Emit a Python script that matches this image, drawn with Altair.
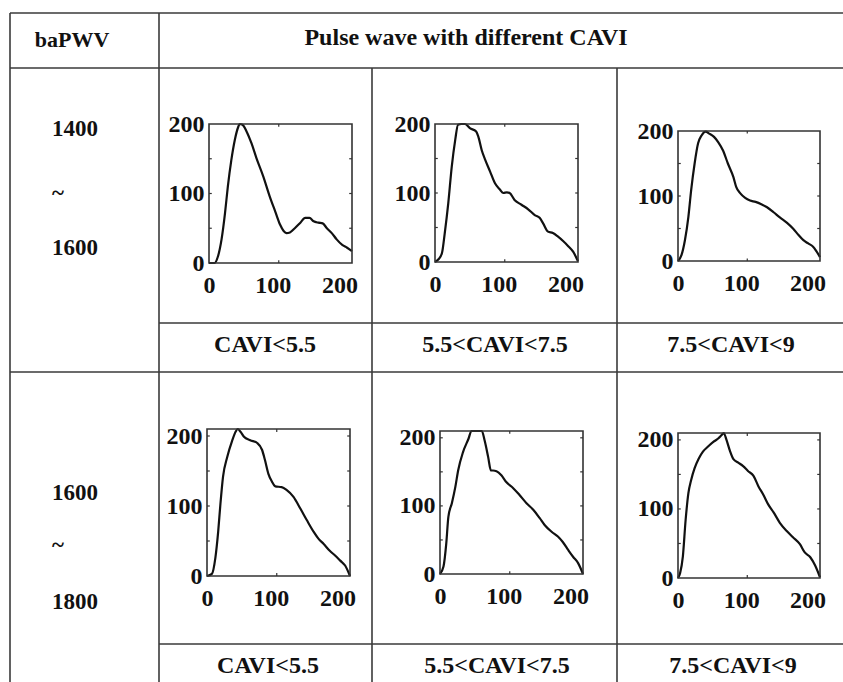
import altair as alt
import pandas as pd

W, H = 843, 682
SERIF = "Liberation Serif"
INK = "#111111"
RULE = "#3a3a3a"

# ---- text content -------------------------------------------------------
header_left = "baPWV"
header_main = "Pulse wave with different CAVI"
bapwv_row1 = ["1400", "~", "1600"]
bapwv_row2 = ["1600", "~", "1800"]
cavi_labels = ["CAVI<5.5", "5.5<CAVI<7.5", "7.5<CAVI<9"]
tick_labels = [0, 100, 200]

# ---- pulse waves, baPWV 1400~1600 ------------------------------------------
t_a1 = [0, 8, 13, 18, 23, 27, 32, 37, 42, 44, 48, 54, 61, 68, 78, 87, 95, 102, 107,
        111, 116, 123, 131, 138, 144, 150, 157, 163, 169, 176, 183, 191, 198, 205]
p_a1 = [0, 0, 10, 34, 72, 110, 148, 177, 196, 200, 199, 189, 172, 151, 124, 96, 74, 55, 46,
        43, 44, 50, 58, 65, 65, 60, 58, 57, 50, 43, 34, 26, 22, 17]

t_a2 = [0, 5, 10, 14, 19, 24, 29, 33, 38, 43, 50, 59, 62, 67, 72, 79, 86, 93, 98, 103,
        107, 114, 124, 134, 143, 150, 155, 162, 169, 176, 184, 191, 198, 205]
p_a2 = [0, 4, 13, 42, 85, 138, 177, 199, 200, 200, 194, 189, 182, 162, 148, 131, 114, 105, 100, 101,
        100, 90, 83, 76, 68, 64, 56, 44, 42, 37, 30, 23, 15, 1]

t_a3 = [0, 5, 10, 15, 19, 24, 29, 34, 40, 45, 52, 58, 65, 72, 80, 84, 90, 97, 104, 112,
        121, 128, 138, 147, 157, 166, 174, 181, 188, 195, 205]
p_a3 = [0, 9, 32, 68, 109, 150, 181, 193, 199, 196, 191, 183, 170, 150, 129, 114, 104, 97, 93, 91,
        87, 83, 75, 67, 59, 50, 40, 32, 27, 22, 6]

# ---- pulse waves, baPWV 1600~1800 ------------------------------------------
t_b1 = [0, 7, 12, 16, 19, 23, 29, 36, 41, 44, 48, 53, 62, 72, 79, 83, 88, 93, 98, 107,
        114, 124, 134, 143, 153, 160, 167, 176, 184, 191, 198, 205]
p_b1 = [0, 3, 26, 63, 100, 142, 170, 193, 206, 210, 206, 199, 194, 190, 180, 166, 146, 135, 128, 127,
        123, 113, 96, 80, 63, 53, 46, 36, 29, 22, 15, 0]

t_b2 = [0, 5, 9, 12, 17, 22, 26, 33, 41, 45, 52, 60, 64, 69, 73, 76, 81, 88, 95, 105,
        114, 124, 134, 143, 150, 160, 169, 176, 184, 191, 198, 205]
p_b2 = [0, 11, 45, 84, 104, 128, 152, 179, 199, 210, 210, 210, 196, 172, 152, 152, 151, 145, 135, 126,
        116, 104, 94, 82, 72, 62, 55, 47, 35, 25, 16, 0]

t_b3 = [0, 3, 7, 11, 15, 19, 24, 30, 36, 43, 51, 58, 63, 66, 70, 75, 80, 87, 94, 101,
        109, 116, 123, 130, 138, 147, 157, 166, 176, 183, 191, 198, 205]
p_b3 = [0, 7, 31, 84, 123, 142, 159, 173, 183, 190, 197, 202, 207, 210, 200, 184, 172, 167, 162, 155,
        148, 133, 121, 107, 95, 80, 68, 59, 49, 37, 30, 18, 1]

# ---- page layout (pixels) ------------------------------------------------
px_scale = alt.Scale(domain=[0, W], range=[0, W], nice=False, zero=False)
py_scale = alt.Scale(domain=[0, H], range=[0, H], nice=False, zero=False)

grid_lines = pd.DataFrame(
    [
        (10, 13, W, 13), (10, 68, W, 68), (10, 372, W, 372),
        (159, 323, W, 323), (159, 644, W, 644),
        (10, 13, 10, H), (159, 13, 159, H), (372, 68, 372, H), (617, 68, 617, H),
    ],
    columns=["x1", "y1", "x2", "y2"],
)

table_rules = alt.Chart(grid_lines).mark_rule(color=RULE, strokeWidth=1.6).encode(
    x=alt.X("x1:Q", scale=px_scale, axis=None),
    x2="x2",
    y=alt.Y("y1:Q", scale=py_scale, axis=None),
    y2="y2",
)

header_df = pd.DataFrame({"label": [header_left, header_main], "x": [72, 466], "y": [47, 45],
                          "size": [22, 24]})
header_text = alt.Chart(header_df).mark_text(
    font=SERIF, fontWeight="bold", color=INK, align="center", baseline="alphabetic"
).encode(
    x=alt.X("x:Q", scale=px_scale, axis=None),
    y=alt.Y("y:Q", scale=py_scale, axis=None),
    text="label:N",
    size=alt.Size("size:Q", scale=None, legend=None),
)

left_df = pd.DataFrame({
    "label": bapwv_row1 + bapwv_row2,
    "x": [52] * 6,
    "y": [136, 200, 255, 500, 552, 609],
})
left_text = alt.Chart(left_df).mark_text(
    font=SERIF, fontWeight="bold", color=INK, align="left", baseline="alphabetic", fontSize=23
).encode(
    x=alt.X("x:Q", scale=px_scale, axis=None),
    y=alt.Y("y:Q", scale=py_scale, axis=None),
    text="label:N",
)

cavi_df = pd.DataFrame({
    "label": cavi_labels + cavi_labels,
    "x": [265, 495, 731, 268, 497, 733],
    "y": [352, 352, 352, 673, 673, 673],
})
cavi_text = alt.Chart(cavi_df).mark_text(
    font=SERIF, fontWeight="bold", color=INK, align="center", baseline="alphabetic", fontSize=24
).encode(
    x=alt.X("x:Q", scale=px_scale, axis=None),
    y=alt.Y("y:Q", scale=py_scale, axis=None),
    text="label:N",
)

table_layers = [table_rules, header_text, left_text, cavi_text]


def wave_panel(ts, ps, box, ymax):
    """Layers for one small pulse-wave plot placed in the pixel box (left, top, right, bottom)."""
    left, top, right, bottom = box
    tmax = 205
    xs = alt.Scale(domain=[0, tmax], range=[left, right], nice=False, zero=False)
    ys = alt.Scale(domain=[0, ymax], range=[bottom, top], nice=False, zero=False)
    x_axis = alt.Axis(orient="bottom", offset=bottom - H, values=tick_labels, title=None,
                      ticks=False, domain=False, grid=False, labelFlush=False,
                      labelOverlap=False, labelPadding=10, format="d",
                      labelOffset={"expr": "datum.value == 0 ? 0 : -3 - datum.value * 0.03"})
    y_axis = alt.Axis(orient="left", offset=-left, values=tick_labels, title=None,
                      ticks=False, domain=False, grid=False, labelFlush=False,
                      labelOverlap=False, labelPadding=5, format="d")

    wave = alt.Chart(pd.DataFrame({"t": ts, "p": ps})).mark_line(
        color=INK, strokeWidth=2.2, interpolate="monotone"
    ).encode(
        x=alt.X("t:Q", scale=xs, axis=x_axis),
        y=alt.Y("p:Q", scale=ys, axis=y_axis),
    )

    frame = alt.Chart(pd.DataFrame({"t": [0], "t2": [tmax], "p": [0], "p2": [ymax]})).mark_rect(
        fill="transparent", stroke="#333333", strokeWidth=1.6
    ).encode(
        x=alt.X("t:Q", scale=xs, axis=None),
        x2="t2",
        y=alt.Y("p:Q", scale=ys, axis=None),
        y2="p2",
    )

    # small inward ticks on all four sides of the box
    ty = [v for v in range(50, ymax + 1, 50) if v < ymax]
    tl = 4
    tk = ymax * tl / 200
    seg = (
        [(0, tl, v, v) for v in ty]
        + [(tmax - tl, tmax, v, v) for v in ty]
        + [(100, 100, 0, tk), (100, 100, ymax - tk, ymax)]
    )
    ticks = alt.Chart(pd.DataFrame(seg, columns=["t", "t2", "p", "p2"])).mark_rule(
        color="#333333", strokeWidth=1.2
    ).encode(
        x=alt.X("t:Q", scale=xs, axis=None), x2="t2",
        y=alt.Y("p:Q", scale=ys, axis=None), y2="p2",
    )
    return [wave, frame, ticks]


panel_layers = (
    wave_panel(t_a1, p_a1, (209, 124, 352, 263), 200)
    + wave_panel(t_a2, p_a2, (435, 124, 578, 262), 200)
    + wave_panel(t_a3, p_a3, (678, 131, 820, 261), 200)
    + wave_panel(t_b1, p_b1, (207, 429, 350, 576), 210)
    + wave_panel(t_b2, p_b2, (440, 431, 583, 574), 210)
    + wave_panel(t_b3, p_b3, (678, 433, 820, 578), 210)
)

chart = (
    alt.layer(*table_layers, *panel_layers)
    .resolve_scale(x="independent", y="independent")
    .resolve_axis(x="independent", y="independent")
    .properties(width=W, height=H, autosize=alt.AutoSizeParams(type="none"), padding=0,
                background="white")
    .configure_view(strokeWidth=0)
    .configure_axis(labelFont=SERIF, labelFontWeight="bold", labelFontSize=24, labelColor=INK)
)

chart.save("out.html", embed_options={"renderer": "svg", "actions": False})
